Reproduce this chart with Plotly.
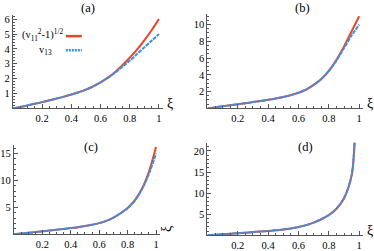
import plotly.graph_objects as go

W, H = 374, 251

# ---------------- data ----------------
xi = [0, .05, .1, .15, .2, .25, .3, .35, .4, .45, .5, .55, .6, .65, .7, .75, .8, .85, .9, .95, 1.0]
xi_d = [0, .05, .1, .15, .2, .25, .3, .35, .4, .45, .5, .55, .6, .65, .7, .75, .8, .85, .9, .95, .97]

a_v11 = [0, .1, .2, .31, .42, .54, .66, .79, .93, 1.08, 1.26, 1.48, 1.75, 2.07, 2.45, 2.9, 3.4, 3.95, 4.57, 5.25, 6.0]
a_v13 = [0, .1, .2, .31, .42, .54, .66, .79, .93, 1.08, 1.26, 1.48, 1.75, 2.05, 2.4, 2.8, 3.2, 3.65, 4.1, 4.55, 5.0]

b_v11 = [0, .12, .25, .37, .5, .62, .75, .88, 1.02, 1.18, 1.36, 1.58, 1.86, 2.25, 2.8, 3.5, 4.5, 5.8, 7.4, 9.2, 11.0]
b_v13 = [0, .12, .25, .37, .5, .62, .75, .88, 1.02, 1.18, 1.36, 1.58, 1.86, 2.25, 2.8, 3.5, 4.45, 5.7, 7.2, 8.7, 10.0]

c_v11 = [0, .14, .28, .42, .56, .7, .85, 1.0, 1.15, 1.32, 1.52, 1.76, 2.07, 2.5, 3.1, 3.9, 4.9, 6.3, 8.4, 11.6, 16.2]
c_v13 = [0, .14, .28, .42, .56, .7, .85, 1.0, 1.15, 1.32, 1.52, 1.76, 2.07, 2.5, 3.1, 3.9, 4.85, 6.2, 8.3, 11.2, 15.0]

d_v11 = [0, .12, .25, .37, .5, .62, .75, .88, 1.02, 1.18, 1.38, 1.63, 1.95, 2.4, 3.0, 3.8, 4.8, 6.3, 8.8, 14.2, 22.5]
d_v13 = [0, .12, .25, .37, .5, .62, .75, .88, 1.02, 1.18, 1.38, 1.63, 1.95, 2.4, 3.0, 3.8, 4.8, 6.3, 8.8, 14.2, 22.5]

x_ticks = [0.2, 0.4, 0.6, 0.8, 1.0]
x_ticktext = ["0.2", "0.4", "0.6", "0.8", "1"]
a_yticks = [1, 2, 3, 4, 5, 6]
b_yticks = [2, 4, 6, 8, 10]
c_yticks = [5, 10, 15]
d_yticks = [5, 10, 15, 20]
panel_labels = ["(a)", "(b)", "(c)", "(d)"]
legend_labels = ["(v<sub>11</sub><sup>2</sup>-1)<sup>1/2</sup>", "v<sub>13</sub>"]

RED = "#ee4422"
BLUE = "#3a8fe6"
AX = "#555555"
FONT = "Liberation Serif"

# panel geometry in pixels: (x0, x1, y_bottom, y_top)
panels = [
    (12, 162, 110, 14, [0, 6.3], a_yticks, 0.2, xi, a_v11, a_v13),
    (207, 363, 110, 13, [0, 11.3], b_yticks, 0.5, xi, b_v11, b_v13),
    (13, 159, 239, 148, [0, 16.5], c_yticks, 1, xi, c_v11, c_v13),
    (207, 363, 240, 145, [0, 22], d_yticks, 1, xi_d, d_v11, d_v13),
]

fig = go.Figure()
layout = dict(
    width=W, height=H, margin=dict(l=0, r=0, t=0, b=0),
    paper_bgcolor="white", plot_bgcolor="white", showlegend=False,
    font=dict(family=FONT, size=11, color="black"),
)
annotations = []
for i, (x0, x1, yb, yt, yr, yt_vals, ymin, xs, r, b) in enumerate(panels):
    n = i + 1
    xa = "xaxis" if n == 1 else f"xaxis{n}"
    ya = "yaxis" if n == 1 else f"yaxis{n}"
    xref = "x" if n == 1 else f"x{n}"
    yref = "y" if n == 1 else f"y{n}"
    fig.add_trace(go.Scatter(x=xs, y=r, mode="lines", line=dict(color=RED, width=2, shape="spline", smoothing=0.8),
                             xaxis=xref, yaxis=yref, cliponaxis=True))
    fig.add_trace(go.Scatter(x=xs, y=b, mode="lines", line=dict(color=BLUE, width=2, dash="4px,1px", shape="spline", smoothing=0.8),
                             xaxis=xref, yaxis=yref, cliponaxis=True))
    layout[xa] = dict(
        domain=[x0 / W, x1 / W], range=[0, 1.025], anchor=yref,
        showgrid=False, zeroline=False, showline=True, linecolor=AX, linewidth=1,
        tickmode="array", tickvals=x_ticks, ticktext=x_ticktext,
        ticks="inside", ticklen=4, tickcolor=AX, tickfont=dict(size=10.5, family=FONT),
        ticklabeloverflow="allow",
        minor=dict(tickmode="linear", tick0=0, dtick=0.05, ticks="inside", ticklen=2, tickcolor=AX),
    )
    layout[ya] = dict(
        domain=[1 - yb / H, 1 - yt / H], range=yr, anchor=xref,
        showgrid=False, zeroline=False, showline=True, linecolor=AX, linewidth=1,
        tickmode="array", tickvals=yt_vals, ticktext=[str(v) for v in yt_vals],
        ticks="inside", ticklen=4, tickcolor=AX, tickfont=dict(size=10.5, family=FONT),
        ticklabeloverflow="allow",
        minor=dict(tickmode="linear", tick0=0, dtick=ymin, ticks="inside", ticklen=2, tickcolor=AX),
    )
    # xi axis label
    annotations.append(dict(x=(x1 + 7) / W, y=1 - (yb - 5) / H, xref="paper", yref="paper",
                            xanchor="center", yanchor="middle",
                            text="ξ", showarrow=False, font=dict(size=14, family=FONT),
                            textangle=-90 if n == 3 else 0))
    # panel label
    cx = [87, 302, 90, 305][i]
    cy = [7, 7, 150, 150][i]
    annotations.append(dict(x=cx / W, y=1 - cy / H, xref="paper", yref="paper",
                            xanchor="center", yanchor="middle",
                            text=panel_labels[i], showarrow=False, font=dict(size=12.5, family=FONT)))

# legend (panel a)
annotations.append(dict(x=64 / W, y=1 - 35 / H, xref="paper", yref="paper", xanchor="right", yanchor="middle",
                        text=legend_labels[0], showarrow=False, font=dict(size=10.5, family=FONT)))
annotations.append(dict(x=53 / W, y=1 - 51 / H, xref="paper", yref="paper", xanchor="right", yanchor="middle",
                        text=legend_labels[1], showarrow=False, font=dict(size=10.5, family=FONT)))
shapes = [
    dict(type="line", xref="paper", yref="paper", x0=65 / W, x1=81 / W, y0=1 - 36 / H, y1=1 - 36 / H,
         line=dict(color=RED, width=2.5)),
    dict(type="line", xref="paper", yref="paper", x0=65 / W, x1=81 / W, y0=1 - 50.5 / H, y1=1 - 50.5 / H,
         line=dict(color=BLUE, width=2.5, dash="2px,1px")),
]
layout["annotations"] = annotations
layout["shapes"] = shapes
fig.update_layout(**layout)
fig.write_html("out.html", config={"displayModeBar": False},
               post_script="document.body.style.margin='0px';")
